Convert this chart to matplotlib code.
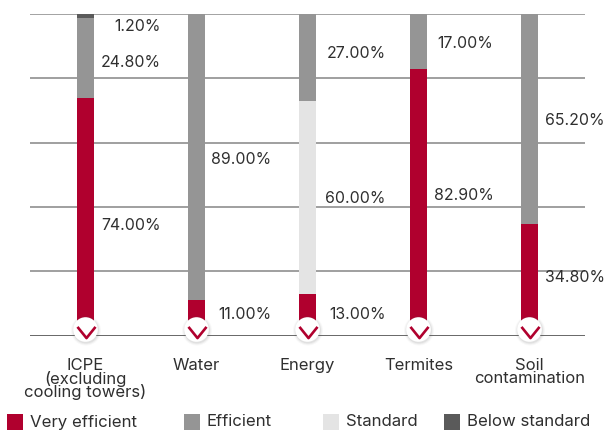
import numpy as np
import matplotlib
matplotlib.use('Agg')
import matplotlib.pyplot as plt
from matplotlib.markers import MarkerStyle
from matplotlib.path import Path
from matplotlib.patches import Rectangle

categories = ['ICPE\n(excluding\ncooling towers)', 'Water', 'Energy', 'Termites', 'Soil\ncontamination']
series_names = ['Very efficient', 'Efficient', 'Standard', 'Below standard']
very_efficient = [74.0, 11.0, 13.0, 82.9, 34.8]
efficient = [24.8, 89.0, 27.0, 17.0, 65.2]
standard = [0.0, 0.0, 60.0, 0.0, 0.0]
below_standard = [1.2, 0.0, 0.0, 0.0, 0.0]

colors = ['#B0002E', '#959595', '#E4E4E4', '#5A5A5A']
W, H = 605, 430

plt.rcParams['font.family'] = ['Inter', 'DejaVu Sans']

fig = plt.figure(figsize=(W / 100, H / 100), dpi=100)
ax = fig.add_axes([30 / W, 1 - 335.5 / H, 555 / W, 321.5 / H])
ax.set_xlim(-0.5, 4.5)
ax.set_ylim(0, 100)

x = np.arange(len(categories))
bottom = np.zeros(len(categories))
# stacking order runs bottom to top
all_series = [very_efficient, standard, efficient, below_standard]
all_colors = [colors[0], colors[2], colors[1], colors[3]]

# text heights for the percent labels, shifted off the segment centre where needed
label_shift = {(0, 0): -2.7, (0, 2): -1.6, (0, 3): -3.2, (1, 0): 1.0, (1, 2): -0.8,
               (2, 0): 0.0, (2, 1): -0.4, (2, 2): 1.2, (3, 0): 2.2, (3, 2): -0.5,
               (4, 0): 0.6, (4, 2): -0.6}

for s, vals in enumerate(all_series):
    ax.bar(x, vals, width=17 / 111, bottom=bottom, color=all_colors[s], zorder=3)
    for i, v in enumerate(vals):
        if v > 0:
            yc = bottom[i] + v / 2 + label_shift.get((i, s), 0)
            xt = i + (78 if i == 2 else 75) / 111
            ax.text(xt, yc, '%.2f%%' % v, ha='right', va='center', fontsize=11.4,
                    color='#2f2f2f', zorder=5, clip_on=False)
    bottom += np.array(vals)

ax.set_yticks([0, 20, 40, 60, 80, 100])
ax.set_yticklabels([])
ax.grid(axis='y', color='#8f8f8f', lw=1.2, zorder=1)
ax.set_axisbelow(True)
ax.tick_params(length=0)
ax.set_xticks(x)
ax.set_xticklabels([])
for s in ax.spines.values():
    s.set_visible(False)
ax.axhline(0, color='#666666', lw=1.3, zorder=2)
ax.axhline(100, color='#a5a5a5', lw=1.4, zorder=2)

# round badge with a chevron on each bar foot
chevron = MarkerStyle(Path([(-1, 0.62), (0, -0.62), (1, 0.62)], [Path.MOVETO, Path.LINETO, Path.LINETO]),
                      joinstyle='miter', capstyle='butt')
for i in x:
    base = ax.transData.transform((i, 0))
    px, py = base[0], base[1] + 6
    for r, a in [(15, 0.04), (14, 0.06), (13, 0.09)]:
        fig.add_artist(plt.Circle((px + 0.5, py - 1), r, transform=None, facecolor='#555555', alpha=a,
                                  edgecolor='none', zorder=6))
    fig.add_artist(plt.Circle((px, py), 12.3, transform=None, facecolor='white', edgecolor='none', zorder=7))
    fig.add_artist(plt.Line2D([px], [py - 2.2], transform=None, marker=chevron, markersize=13, mfc='none',
                              mec=colors[0], mew=1.9, ls='none', zorder=8))

# category names under the axis
for i, name in enumerate(categories):
    px = ax.transData.transform((i, 0))[0] / W
    fig.text(px, 1 - 358 / H, name, ha='center', va='top', fontsize=12, color='#2f2f2f',
             linespacing=0.82)

# legend row along the bottom edge
legend_boxes = [7, 184, 323, 444]
legend_text_y = [423, 421, 421, 421]
for s, name in enumerate(series_names):
    fig.add_artist(Rectangle((legend_boxes[s] / W, 1 - 430 / H), 16 / W, 16 / H,
                             transform=fig.transFigure, facecolor=colors[s], edgecolor='none'))
    fig.text((legend_boxes[s] + 23) / W, 1 - legend_text_y[s] / H, name, ha='left', va='center',
             fontsize=12.1, color='#2f2f2f')

fig.savefig('out.png', dpi=100)
